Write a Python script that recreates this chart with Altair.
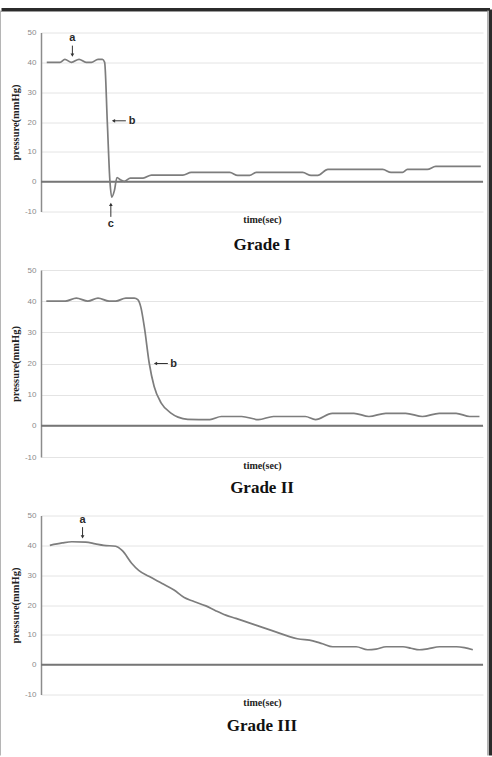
import altair as alt
import pandas as pd

# ---------------- data ----------------
g1_time = [1.3, 4.3, 5.4, 6.9, 8.6, 10.2, 11.4, 12.9, 13.9, 14.4, 15.0, 15.6, 16.0, 16.6,
           17.2, 18.0, 18.9, 20.2, 23.1, 25.0, 32.1, 34.0, 42.7, 44.5, 47.2, 48.7, 59.2,
           61.1, 62.6, 64.9, 77.3, 79.2, 81.8, 82.9, 87.4, 89.3, 99.5]
g1_pressure = [40, 40, 41, 40, 41, 40, 40, 41, 41, 40, 20, 0, -5.2, -3,
               1.4, 0.6, 0.1, 1.2, 1.2, 2.2, 2.2, 3.1, 3.1, 2.1, 2.1, 3.1, 3.1,
               2.1, 2.1, 4.1, 4.1, 3.1, 3.1, 4.1, 4.1, 5.1, 5.1]

g2_time = [1.2, 5.5, 8.0, 10.6, 12.9, 15.4, 16.9, 19.2, 21.1, 21.9, 22.6, 23.4, 24.5,
           25.6, 27.2, 29.4, 31.0, 33.2, 38.2, 40.8, 45.4, 49.2, 52.6, 59.8, 62.1, 65.9,
           70.8, 74.2, 78.0, 82.5, 86.3, 90.1, 93.9, 97.0, 99.2]
g2_pressure = [40, 40, 41, 40, 41, 40, 40, 41, 41, 40.5, 38, 31.5, 20,
               12.6, 7.3, 4.1, 2.8, 2.1, 2, 3, 3, 2, 3, 3, 2, 4,
               4, 3, 4, 4, 3, 4, 4, 3, 3]

g3_time = [2.0, 4.8, 7.0, 10.1, 12.3, 14.2, 16.9, 18.4, 20.5, 22.1, 24.4, 27.4, 30.1,
           32.4, 34.2, 37.3, 39.5, 41.8, 44.1, 47.1, 50.1, 53.1, 56.2, 58.0, 61.5, 63.7,
           66.0, 69.8, 71.3, 73.9, 75.8, 78.1, 81.9, 83.7, 85.6, 87.5, 90.2, 94.0, 95.8, 97.7]
g3_pressure = [40, 40.8, 41.2, 41.1, 40.5, 40, 39.7, 38.2, 34, 31.6, 29.6, 27.2, 25,
               22.5, 21.4, 19.7, 18.1, 16.6, 15.5, 14, 12.5, 11, 9.4, 8.7, 8, 7,
               6, 6, 6, 5, 5.2, 6, 6, 5.5, 5, 5.3, 6, 6, 5.7, 5]

y_ticks = [-10, 0, 10, 20, 30, 40, 50]
titles = ["Grade I", "Grade II", "Grade III"]

# annotation labels: (time, pressure, label)
g1_notes = [(7.1, 48.0, "a"), (20.6, 20.4, "b"), (15.8, -14.2, "c")]
g2_notes = [(30.0, 20.0, "b")]
g3_notes = [(9.4, 48.6, "a")]
# arrows: (tail time, tail pressure, head time, head pressure, head shape)
g1_arrows = [(7.1, 45.6, 7.1, 42.4, "triangle-down"),
             (19.2, 20.4, 16.4, 20.4, "triangle-left"),
             (15.8, -11.8, 15.8, -7.6, "triangle-up")]
g2_arrows = [(28.7, 20.0, 25.9, 20.0, "triangle-left")]
g3_arrows = [(9.4, 46.1, 9.4, 42.8, "triangle-down")]

SERIF = "Liberation Serif"
SANS = "Liberation Sans"
PLOT_W = 442


def panel(times, pressures, title, height, notes, arrows, title_offset):
    df = pd.DataFrame({"t": times, "p": pressures})
    xenc = alt.X("t:Q", scale=alt.Scale(domain=[0, 100], nice=False, zero=False),
                 axis=alt.Axis(title="time(sec)", labels=False, ticks=False, domain=False,
                               grid=False, titleFont=SERIF, titleFontSize=10,
                               titleFontWeight="bold", titleColor="#222222", titlePadding=3))
    yenc = alt.Y("p:Q", scale=alt.Scale(domain=[-10, 50], nice=False, zero=False),
                 axis=alt.Axis(title="pressure(mmHg)", values=y_ticks, ticks=False,
                               domain=True, domainColor="#8c8c8c", domainWidth=1.5,
                               grid=True, gridColor="#e4e4e4", gridWidth=1,
                               labelFont=SANS, labelFontSize=8, labelColor="#8a8a8a",
                               labelPadding=5, labelExpr="datum.value",
                               titleFont=SERIF, titleFontSize=10.5, titleFontWeight="bold",
                               titleColor="#222222", titlePadding=4))
    zero = alt.Chart(pd.DataFrame({"p": [0]})).mark_rule(
        color="#767676", strokeWidth=2).encode(y=yenc)
    line = alt.Chart(df).mark_line(interpolate="monotone", color="#7d7d7d",
                                   strokeWidth=1.7).encode(x=xenc, y=yenc)
    ndf = pd.DataFrame(notes, columns=["t", "p", "label"])
    text = alt.Chart(ndf).mark_text(font=SANS, fontSize=11, fontWeight="bold",
                                    color="#2a2a2a", align="center",
                                    baseline="middle").encode(x=xenc, y=yenc, text="label:N")
    adf = pd.DataFrame(arrows, columns=["t", "p", "t2", "p2", "shape"])
    shafts = alt.Chart(adf).mark_rule(color="#333333", strokeWidth=1).encode(
        x=xenc, y=yenc, x2="t2:Q", y2="p2:Q")
    hdf = pd.DataFrame({"t": adf["t2"], "p": adf["p2"], "shape": adf["shape"]})
    heads = alt.Chart(hdf).mark_point(filled=True, color="#333333", size=14, opacity=1).encode(
        x=xenc, y=yenc, shape=alt.Shape("shape:N", scale=None))
    return alt.layer(zero, line, shafts, heads, text).properties(
        width=PLOT_W, height=height,
        title=alt.TitleParams(text=title, orient="bottom", frame="group", anchor="middle",
                              font=SERIF, fontSize=17, fontWeight="bold", color="#111111",
                              offset=title_offset))


p1 = panel(g1_time, g1_pressure, titles[0], 179, g1_notes, g1_arrows, 8)
p2 = panel(g2_time, g2_pressure, titles[1], 187, g2_notes, g2_arrows, 10)
p3 = panel(g3_time, g3_pressure, titles[2], 179, g3_notes, g3_arrows, 10)

# decorative page frame (pixel positions relative to its own small cell)
frame_df = pd.DataFrame({
    "x": [-39.5, -40, 449.5, 447, -40.5],
    "x2": [449, 447, 449.5, 447, -40.5],
    "y": [-743.5, -741.5, -743.5, -742.5, -742.5],
    "y2": [-743.5, -741.5, 2.5, 2.5, 2.5],
    "c": ["#2b2b2b", "#9a9a9a", "#2b2b2b", "#9a9a9a", "#b5b5b5"],
    "w": [3, 1, 3, 1.5, 1],
})
frame = alt.Chart(frame_df).mark_rule().encode(
    x=alt.X("x:Q", scale=None), x2="x2:Q",
    y=alt.Y("y:Q", scale=None), y2="y2:Q",
    color=alt.Color("c:N", scale=None),
    strokeWidth=alt.StrokeWidth("w:Q", scale=None),
).properties(width=PLOT_W, height=1)

chart = alt.vconcat(p1, p2, p3, frame, spacing=58.5, bounds="flush").properties(
    padding={"left": 0, "top": 7.5, "right": 0, "bottom": 0},
    background="white",
).configure_view(stroke=None)

chart.save("out.html", embed_options={"renderer": "svg", "actions": False})
